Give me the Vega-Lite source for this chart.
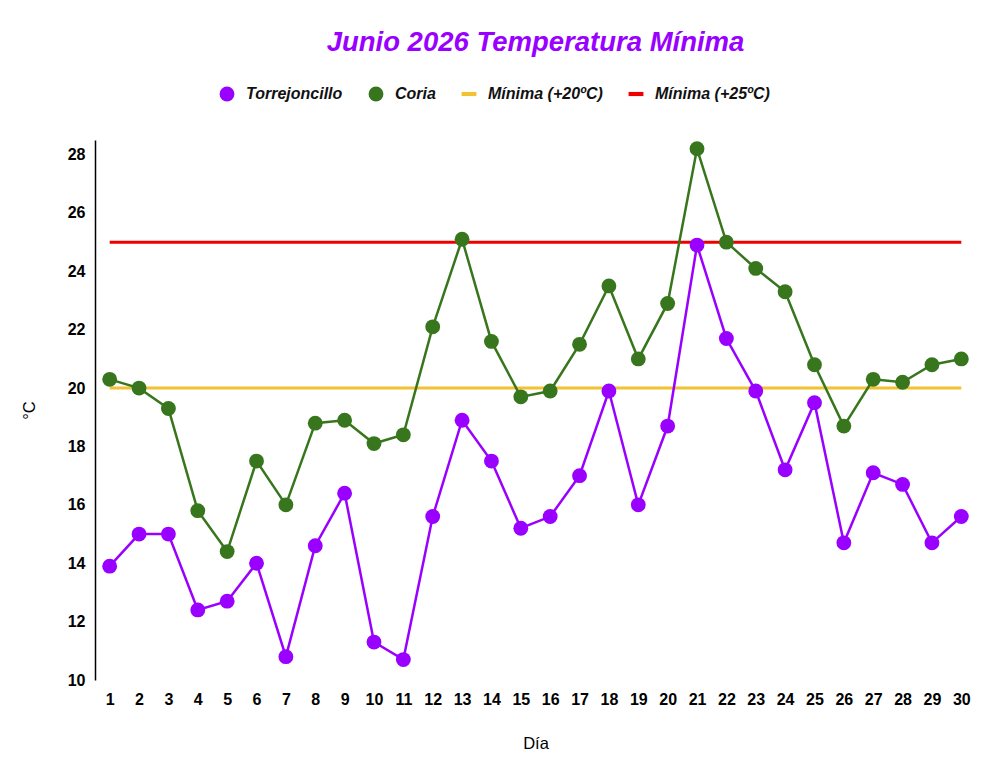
{
  "$schema": "https://vega.github.io/schema/vega-lite/v6.json",
  "autosize": "none",
  "width": 881,
  "height": 540,
  "padding": {"left": 95, "top": 140, "right": 12, "bottom": 89},
  "background": "white",
  "config": {
    "view": {"stroke": null},
    "font": "Liberation Sans"
  },
  "title": {
    "text": "Junio 2026 Temperatura Mínima",
    "anchor": "middle",
    "color": "#9900ff",
    "font": "Liberation Sans",
    "fontSize": 27.5,
    "fontWeight": "bold",
    "fontStyle": "italic",
    "offset": 30
  },
  "datasets": {
    "diario": [
      {"dia": 1, "serie": "Torrejoncillo", "temp": 13.9},
      {"dia": 2, "serie": "Torrejoncillo", "temp": 15.0},
      {"dia": 3, "serie": "Torrejoncillo", "temp": 15.0},
      {"dia": 4, "serie": "Torrejoncillo", "temp": 12.4},
      {"dia": 5, "serie": "Torrejoncillo", "temp": 12.7},
      {"dia": 6, "serie": "Torrejoncillo", "temp": 14.0},
      {"dia": 7, "serie": "Torrejoncillo", "temp": 10.8},
      {"dia": 8, "serie": "Torrejoncillo", "temp": 14.6},
      {"dia": 9, "serie": "Torrejoncillo", "temp": 16.4},
      {"dia": 10, "serie": "Torrejoncillo", "temp": 11.3},
      {"dia": 11, "serie": "Torrejoncillo", "temp": 10.7},
      {"dia": 12, "serie": "Torrejoncillo", "temp": 15.6},
      {"dia": 13, "serie": "Torrejoncillo", "temp": 18.9},
      {"dia": 14, "serie": "Torrejoncillo", "temp": 17.5},
      {"dia": 15, "serie": "Torrejoncillo", "temp": 15.2},
      {"dia": 16, "serie": "Torrejoncillo", "temp": 15.6},
      {"dia": 17, "serie": "Torrejoncillo", "temp": 17.0},
      {"dia": 18, "serie": "Torrejoncillo", "temp": 19.9},
      {"dia": 19, "serie": "Torrejoncillo", "temp": 16.0},
      {"dia": 20, "serie": "Torrejoncillo", "temp": 18.7},
      {"dia": 21, "serie": "Torrejoncillo", "temp": 24.9},
      {"dia": 22, "serie": "Torrejoncillo", "temp": 21.7},
      {"dia": 23, "serie": "Torrejoncillo", "temp": 19.9},
      {"dia": 24, "serie": "Torrejoncillo", "temp": 17.2},
      {"dia": 25, "serie": "Torrejoncillo", "temp": 19.5},
      {"dia": 26, "serie": "Torrejoncillo", "temp": 14.7},
      {"dia": 27, "serie": "Torrejoncillo", "temp": 17.1},
      {"dia": 28, "serie": "Torrejoncillo", "temp": 16.7},
      {"dia": 29, "serie": "Torrejoncillo", "temp": 14.7},
      {"dia": 30, "serie": "Torrejoncillo", "temp": 15.6},
      {"dia": 1, "serie": "Coria", "temp": 20.3},
      {"dia": 2, "serie": "Coria", "temp": 20.0},
      {"dia": 3, "serie": "Coria", "temp": 19.3},
      {"dia": 4, "serie": "Coria", "temp": 15.8},
      {"dia": 5, "serie": "Coria", "temp": 14.4},
      {"dia": 6, "serie": "Coria", "temp": 17.5},
      {"dia": 7, "serie": "Coria", "temp": 16.0},
      {"dia": 8, "serie": "Coria", "temp": 18.8},
      {"dia": 9, "serie": "Coria", "temp": 18.9},
      {"dia": 10, "serie": "Coria", "temp": 18.1},
      {"dia": 11, "serie": "Coria", "temp": 18.4},
      {"dia": 12, "serie": "Coria", "temp": 22.1},
      {"dia": 13, "serie": "Coria", "temp": 25.1},
      {"dia": 14, "serie": "Coria", "temp": 21.6},
      {"dia": 15, "serie": "Coria", "temp": 19.7},
      {"dia": 16, "serie": "Coria", "temp": 19.9},
      {"dia": 17, "serie": "Coria", "temp": 21.5},
      {"dia": 18, "serie": "Coria", "temp": 23.5},
      {"dia": 19, "serie": "Coria", "temp": 21.0},
      {"dia": 20, "serie": "Coria", "temp": 22.9},
      {"dia": 21, "serie": "Coria", "temp": 28.2},
      {"dia": 22, "serie": "Coria", "temp": 25.0},
      {"dia": 23, "serie": "Coria", "temp": 24.1},
      {"dia": 24, "serie": "Coria", "temp": 23.3},
      {"dia": 25, "serie": "Coria", "temp": 20.8},
      {"dia": 26, "serie": "Coria", "temp": 18.7},
      {"dia": 27, "serie": "Coria", "temp": 20.3},
      {"dia": 28, "serie": "Coria", "temp": 20.2},
      {"dia": 29, "serie": "Coria", "temp": 20.8},
      {"dia": 30, "serie": "Coria", "temp": 21.0}
    ],
    "umbrales": [
      {"serie": "Mínima (+20ºC)", "temp": 20, "desde": 1, "hasta": 30},
      {"serie": "Mínima (+25ºC)", "temp": 25, "desde": 1, "hasta": 30}
    ]
  },
  "encoding": {
    "x": {
      "field": "dia",
      "type": "ordinal",
      "title": "Día",
      "scale": {
        "type": "point",
        "padding": 0.5,
        "domain": [1, 2, 3, 4, 5, 6, 7, 8, 9, 10, 11, 12, 13, 14, 15, 16, 17, 18, 19, 20, 21, 22, 23, 24, 25, 26, 27, 28, 29, 30]
      },
      "axis": {
        "labelAngle": 0,
        "grid": false,
        "ticks": false,
        "domain": false,
        "labelFont": "Liberation Sans",
        "labelFontSize": 16,
        "labelFontWeight": "bold",
        "labelColor": "#000000",
        "labelPadding": 11,
        "titleFont": "Liberation Sans",
        "titleFontSize": 16.5,
        "titleFontWeight": "normal",
        "titleColor": "#000000",
        "titlePadding": 28
      }
    },
    "y": {
      "field": "temp",
      "type": "quantitative",
      "title": "°C",
      "scale": {"domain": [10, 28.5], "nice": false, "zero": false},
      "axis": {
        "values": [10, 12, 14, 16, 18, 20, 22, 24, 26, 28],
        "grid": false,
        "ticks": false,
        "domain": true,
        "domainColor": "#000000",
        "domainWidth": 1.5,
        "labelFont": "Liberation Sans",
        "labelFontSize": 16,
        "labelFontWeight": "bold",
        "labelColor": "#000000",
        "labelPadding": 10,
        "titleFont": "Liberation Sans",
        "titleFontSize": 16.5,
        "titleFontWeight": "normal",
        "titleColor": "#000000",
        "titlePadding": 30
      }
    }
  },
  "layer": [
    {
      "data": {"name": "umbrales"},
      "mark": {"type": "rule", "strokeWidth": 3},
      "encoding": {
        "x": {"field": "desde", "type": "ordinal"},
        "x2": {"field": "hasta"},
        "stroke": {
          "field": "serie",
          "type": "nominal",
          "legend": null,
          "scale": {
            "domain": ["Mínima (+20ºC)", "Mínima (+25ºC)", "Torrejoncillo", "Coria"],
            "range": ["#f1c232", "#ee0000", "#9900ff", "#38761d"]
          }
        }
      }
    },
    {
      "data": {"name": "diario"},
      "mark": {"type": "line", "strokeWidth": 2.5},
      "encoding": {
        "stroke": {"field": "serie", "type": "nominal", "legend": null}
      }
    },
    {
      "data": {"name": "diario"},
      "mark": {"type": "point", "filled": true, "opacity": 1, "size": 220},
      "encoding": {
        "color": {
          "field": "serie",
          "type": "nominal",
          "title": null,
          "scale": {
            "domain": ["Torrejoncillo", "Coria", "Mínima (+20ºC)", "Mínima (+25ºC)"],
            "range": ["#9900ff", "#38761d", "#f1c232", "#ee0000"]
          },
          "legend": {
            "orient": "none",
            "legendX": 124,
            "legendY": -54,
            "direction": "horizontal",
            "labelFont": "Liberation Sans",
            "labelFontSize": 16,
            "labelFontWeight": "bold",
            "labelFontStyle": "italic",
            "labelColor": "#111111",
            "symbolSize": 220,
            "symbolStrokeWidth": 0,
            "columnPadding": 25,
            "labelOffset": 11
          }
        },
        "shape": {
          "field": "serie",
          "type": "nominal",
          "title": null,
          "scale": {
            "domain": ["Torrejoncillo", "Coria", "Mínima (+20ºC)", "Mínima (+25ºC)"],
            "range": ["circle", "circle", "M-1,-0.28H1V0.28H-1Z", "M-1,-0.28H1V0.28H-1Z"]
          },
          "legend": {
            "orient": "none",
            "legendX": 124,
            "legendY": -54,
            "direction": "horizontal",
            "labelFont": "Liberation Sans",
            "labelFontSize": 16,
            "labelFontWeight": "bold",
            "labelFontStyle": "italic",
            "labelColor": "#111111",
            "symbolSize": 220,
            "symbolStrokeWidth": 0,
            "columnPadding": 25,
            "labelOffset": 11
          }
        }
      }
    }
  ]
}
